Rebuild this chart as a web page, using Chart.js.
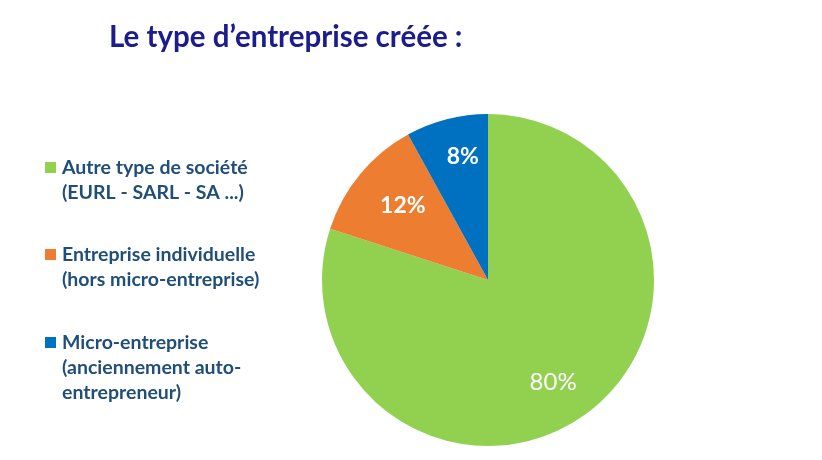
<!DOCTYPE html>
<html>
<head>
<meta charset="utf-8">
<script src="https://cdn.jsdelivr.net/npm/chart.js@4"></script>
<style>
  html, body { margin: 0; padding: 0; background: #fff; }
  #wrap { width: 822px; height: 460px; position: relative; }
</style>
</head>
<body>
<div id="wrap"><canvas id="pieChart" width="822" height="460"></canvas></div>
<script>
const title = "Le type d\u2019entreprise créée :";
const categories = [
  ["Autre type de société", "(EURL - SARL - SA ...)"],
  ["Entreprise individuelle", "(hors micro-entreprise)"],
  ["Micro-entreprise", "(anciennement auto-", "entrepreneur)"],
];
const values = [80, 12, 8];
const colors = ["#92d050", "#ed7d31", "#0070c0"];

// label placement (angle in degrees clockwise from top, distance as fraction of radius)
const labelPlace = [
  { angle: 147.5, dist: 0.73, weight: "normal", size: 24 },
  { angle: 311, dist: 0.68, weight: "bold", size: 23 },
  { angle: 348.5, dist: 0.76, weight: "bold", size: 23 },
];

const FONT = "Lato, 'Open Sans', sans-serif";

// Title + custom legend
const sidePlugin = {
  id: "side",
  afterDraw(chart) {
    const ctx = chart.ctx;
    ctx.save();
    ctx.fillStyle = "#1c1c8c";
    ctx.font = "bold 29.5px " + FONT;
    ctx.textBaseline = "middle";
    ctx.textAlign = "left";
    ctx.fillText(title, 109, 37);

    const blockTops = [168, 255, 343];
    categories.forEach((lines, i) => {
      const y0 = blockTops[i];
      ctx.fillStyle = colors[i];
      ctx.fillRect(45, y0 - 6, 11, 11);
      ctx.fillStyle = "#1f4e79";
      ctx.font = "bold 19.5px " + FONT;
      lines.forEach((t, j) => {
        ctx.fillText(t, 62, y0 + j * 25);
      });
    });
    ctx.restore();
  },
};

// percentage labels inside the slices
const labelPlugin = {
  id: "sliceLabels",
  afterDatasetsDraw(chart) {
    const ctx = chart.ctx;
    const meta = chart.getDatasetMeta(0);
    ctx.save();
    ctx.fillStyle = "#fff";
    ctx.textAlign = "center";
    ctx.textBaseline = "middle";
    meta.data.forEach((arc, i) => {
      const p = labelPlace[i];
      const a = (p.angle * Math.PI) / 180;
      const d = arc.outerRadius * p.dist;
      const x = arc.x + Math.sin(a) * d;
      const y = arc.y - Math.cos(a) * d;
      ctx.font = p.weight + " " + p.size + "px " + FONT;
      ctx.fillText(values[i] + "%", x, y);
    });
    ctx.restore();
  },
};

function initializeChart() {
  const ctx = document.getElementById("pieChart").getContext("2d");
  new Chart(ctx, {
    type: "pie",
    data: {
      labels: categories.map((c) => c.join(" ")),
      datasets: [
        {
          data: values,
          backgroundColor: colors,
          borderWidth: 0,
        },
      ],
    },
    options: {
      responsive: false,
      animation: false,
      layout: { padding: { left: 322, right: 168, top: 114, bottom: 14 } },
      plugins: {
        legend: { display: false },
        tooltip: { enabled: false },
      },
    },
    plugins: [sidePlugin, labelPlugin],
  });
}

document.addEventListener("DOMContentLoaded", () => {
  initializeChart();
});
</script>
</body>
</html>
